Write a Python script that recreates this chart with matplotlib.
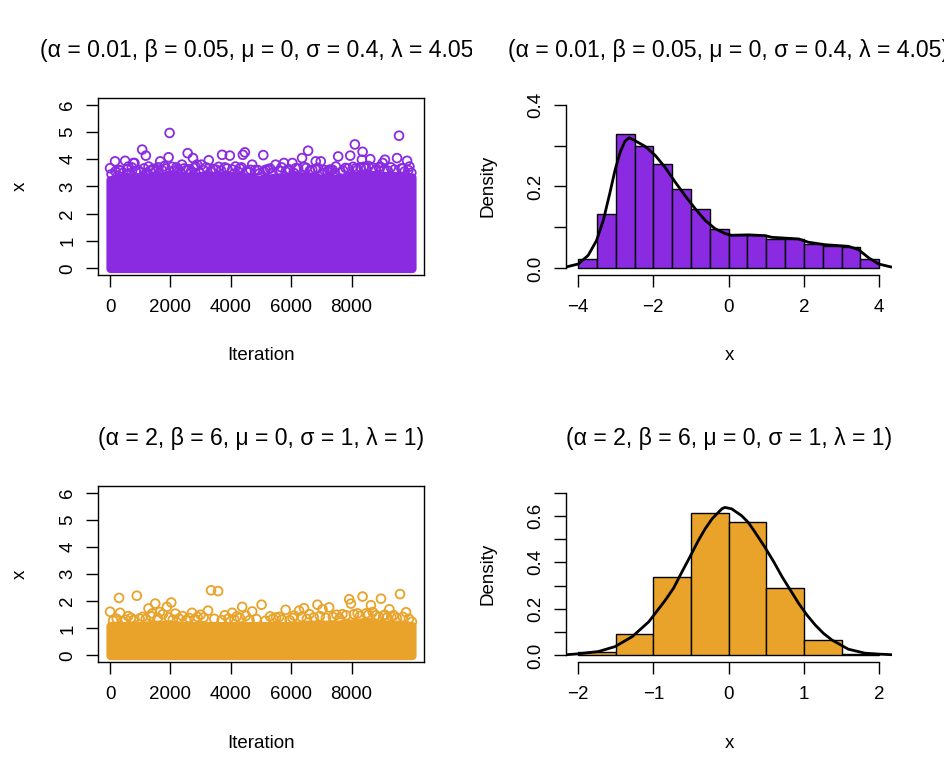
import matplotlib
matplotlib.use("Agg")
import matplotlib.pyplot as plt
import numpy as np
from matplotlib.transforms import Bbox, TransformedBbox

plt.rcParams['font.family'] = ['Liberation Sans', 'DejaVu Sans']

# ---------------- data ----------------
titles = ["(\u03b1 = 0.01, \u03b2 = 0.05, \u03bc = 0, \u03c3 = 0.4, \u03bb = 4.05)",
          "(\u03b1 = 2, \u03b2 = 6, \u03bc = 0, \u03c3 = 1, \u03bb = 1)"]
purple = "#8A2BE2"
orange = "#E9A32A"

# trace plot 1: dense body (top of the dense cloud per iteration block) + visible upper points
p_block_iter = [1, 500, 1000, 1500, 2000, 2500, 3000, 3500, 4000, 4500, 5000,
                5500, 6000, 6500, 7000, 7500, 8000, 8500, 9000, 9500, 10000]
p_block_top = [3.25, 3.35, 3.35, 3.35, 3.45, 3.35, 3.40, 3.40, 3.40, 3.35, 3.25,
               3.35, 3.35, 3.40, 3.30, 3.30, 3.40, 3.45, 3.40, 3.40, 3.35]
p_pts_iter = [1972, 9573, 8110, 1064, 1186, 6560, 5075, 2571, 4466, 4400, 3712, 3967,
              2748, 7557, 7956, 8366, 8343, 6360, 6981, 166, 499, 1939, 9506, 9839,
              9107, 3269, 1662, 8620, 5760, 7370, 2881, 4654, 776, 809, 2382, 3025,
              4709, 5485, 6039, 6814, 7479, 9030, 1, 609, 1274, 2825, 4155, 5152,
              6149, 7257, 8144, 9917, 300, 1450, 2200, 3500, 4900, 5300, 6800, 7800,
              8900, 9700, 2600, 4300, 5900, 7100, 8400, 1800, 3800, 6500,
              50, 180, 260, 350, 430, 560, 640, 720, 850, 930, 1010, 1120, 1230, 1330,
              1400, 1520, 1600, 1720, 1850, 2050, 2120, 2250, 2330, 2450, 2520, 2680,
              2780, 2950, 3100, 3180, 3330, 3420, 3600, 3680, 3880, 4050, 4230, 4350,
              4530, 4600, 4800, 4950, 5100, 5230, 5380, 5600, 5680, 5820, 5950, 6080,
              6230, 6420, 6620, 6700, 6880, 7050, 7200, 7320, 7430, 7650, 7720, 7880,
              8050, 8200, 8300, 8480, 8560, 8720, 8800, 8950, 9080, 9200, 9300, 9420,
              9650, 9760, 9880, 9980]
p_pts_val = [4.96, 4.86, 4.54, 4.35, 4.13, 4.31, 4.15, 4.22, 4.25, 4.16, 4.16, 4.13,
             4.04, 4.10, 4.13, 4.27, 3.98, 4.04, 3.92, 3.92, 3.94, 4.07, 4.04, 3.94,
             3.98, 3.96, 3.92, 4.00, 3.86, 3.61, 3.80, 3.61, 3.86, 3.86, 3.80, 3.80,
             3.80, 3.80, 3.86, 3.92, 3.73, 3.86, 3.67, 3.73, 3.73, 3.73, 3.73, 3.61,
             3.67, 3.61, 3.67, 3.73, 3.60, 3.65, 3.70, 3.62, 3.60, 3.66, 3.64, 3.68,
             3.70, 3.66, 3.63, 3.66, 3.62, 3.60, 3.72, 3.75, 3.70, 3.68,
             3.45, 3.55, 3.40, 3.58, 3.50, 3.62, 3.48, 3.70, 3.55, 3.60, 3.52, 3.66,
             3.50, 3.58,
             3.62, 3.55, 3.70, 3.60, 3.66, 3.72, 3.58, 3.62, 3.50, 3.66, 3.60, 3.55,
             3.68, 3.52, 3.60, 3.70, 3.55, 3.64, 3.72, 3.58, 3.66, 3.62, 3.55, 3.70,
             3.58, 3.52, 3.60, 3.48, 3.55, 3.62, 3.50, 3.58, 3.70, 3.55, 3.62, 3.50,
             3.66, 3.72, 3.58, 3.60, 3.68, 3.50, 3.55, 3.62, 3.48, 3.52, 3.58, 3.66,
             3.72, 3.62, 3.70, 3.66, 3.75, 3.68, 3.60, 3.72, 3.62, 3.58, 3.70, 3.62,
             3.66, 3.55, 3.60, 3.50]

# trace plot 2
o_block_iter = p_block_iter
o_block_top = [1.10, 1.10, 1.10, 1.15, 1.15, 1.10, 1.10, 1.10, 1.10, 1.10, 1.10,
               1.10, 1.10, 1.15, 1.15, 1.15, 1.20, 1.25, 1.15, 1.15, 1.10]
o_pts_iter = [0, 299, 886, 3346, 3579, 332, 1274, 1496, 2028, 1884, 4377, 5019,
              5817, 6870, 7257, 7922, 8366, 8642, 8975, 9606, 7980, 3246, 6260,
              6426, 9252, 9806, 2160, 2714, 4044, 4709, 7036, 10000, 1400, 1650,
              1750, 2400, 3000, 3800, 4500, 5300, 5600, 6100, 6600, 7500, 8200,
              8700, 9100, 9400, 600, 2900, 4200, 5500, 7700,
              100, 220, 420, 520, 700, 780, 980, 1080, 1180, 1350, 1580, 1950,
              2080, 2280, 2520, 2620, 2820, 3100, 3450, 3700, 3920, 4120, 4300, 4620,
              4850, 5150, 5400, 5700, 5950, 6050, 6350, 6520, 6750, 6950, 7150, 7380,
              7600, 7820, 8080, 8280, 8480, 8560, 8800, 8900, 9050, 9180, 9320, 9500,
              9700, 9900]
o_pts_val = [1.61, 2.12, 2.20, 2.40, 2.37, 1.57, 1.73, 1.91, 1.95, 1.79, 1.79, 1.87,
             1.68, 1.87, 1.77, 2.07, 2.17, 1.85, 2.09, 2.26, 1.91, 1.65, 1.65,
             1.74, 1.70, 1.59, 1.54, 1.57, 1.57, 1.62, 1.70, 1.24, 1.55, 1.60,
             1.52, 1.45, 1.50, 1.48, 1.46, 1.44, 1.42, 1.47, 1.52, 1.50, 1.55,
             1.60, 1.50, 1.48, 1.45, 1.42, 1.44, 1.40, 1.52,
             1.28, 1.35, 1.25, 1.32, 1.38, 1.30, 1.36, 1.42, 1.34, 1.45, 1.38, 1.40,
             1.32, 1.36, 1.30, 1.38, 1.34, 1.40, 1.35, 1.30, 1.36, 1.32, 1.38, 1.30,
             1.34, 1.28, 1.36, 1.32, 1.30, 1.38, 1.42, 1.35, 1.40, 1.45, 1.38, 1.42,
             1.36, 1.48, 1.52, 1.45, 1.55, 1.50, 1.48, 1.42, 1.46, 1.40, 1.44, 1.38,
             1.42, 1.35]

# histogram 1
h1_edges = [-4, -3.5, -3, -2.5, -2, -1.5, -1, -0.5, 0, 0.5, 1, 1.5, 2, 2.5, 3, 3.5, 4]
h1_dens = [0.023, 0.133, 0.327, 0.298, 0.254, 0.195, 0.146, 0.097, 0.082, 0.082,
           0.072, 0.072, 0.060, 0.054, 0.052, 0.022]
d1_x = [-4.34, -3.99, -3.73, -3.51, -3.33, -3.15, -3.02, -2.88, -2.75, -2.64, -2.49,
        -2.22, -1.95, -1.69, -1.42, -1.16, -0.89, -0.62, -0.36, -0.09, 0.08, 0.53,
        0.97, 1.15, 1.86, 2.12, 2.56, 3.18, 3.45, 3.72, 3.98, 4.34]
d1_y = [0.003, 0.011, 0.032, 0.068, 0.117, 0.186, 0.239, 0.284, 0.311, 0.319, 0.312,
        0.298, 0.276, 0.247, 0.211, 0.178, 0.146, 0.117, 0.097, 0.085, 0.081, 0.082,
        0.080, 0.076, 0.072, 0.064, 0.058, 0.054, 0.046, 0.026, 0.011, 0.003]

# histogram 2
h2_edges = [-2, -1.5, -1, -0.5, 0, 0.5, 1, 1.5, 2]
h2_dens = [0.013, 0.091, 0.336, 0.611, 0.574, 0.291, 0.067, 0.0085]
d2_x = [-2.17, -2.0, -1.73, -1.51, -1.28, -1.06, -0.84, -0.73, -0.62, -0.51, -0.40,
        -0.31, -0.22, -0.09, -0.05, 0.04, 0.17, 0.26, 0.35, 0.48, 0.60, 0.71, 0.82,
        0.93, 1.04, 1.15, 1.26, 1.37, 1.59, 1.81, 1.99, 2.19]
d2_y = [0.003, 0.007, 0.017, 0.038, 0.081, 0.145, 0.238, 0.290, 0.359, 0.426, 0.495,
        0.545, 0.587, 0.630, 0.636, 0.630, 0.601, 0.572, 0.530, 0.466, 0.402, 0.338,
        0.281, 0.224, 0.174, 0.131, 0.095, 0.067, 0.027, 0.010, 0.006, 0.003]

# ---------------- figure ----------------
W, H = 944, 784
fig = plt.figure(figsize=(W / 100, H / 100), dpi=100)

def rect(l, t, r, b):
    return [l / W, 1 - b / H, (r - l) / W, (b - t) / H]

FS = 13.5
TFS = 16.6

def style_axes(ax):
    ax.tick_params(direction='out', length=8.6, width=1.0, labelsize=FS, pad=9)
    ax.tick_params(axis='y', pad=7)
    for lab in ax.get_yticklabels():
        lab.set_rotation(90)
        lab.set_va('center')

def trace(ax, bi, bt, pi, pv, col):
    ax.fill_between(bi, 0, bt, color=col, lw=6.0, edgecolor=col, joinstyle='round',
                    zorder=2)
    ax.scatter(pi, pv, s=40, facecolors='none', edgecolors=col, linewidths=1.3, zorder=3)
    ax.set_xlim(-399, 10400)
    ax.set_ylim(-0.24, 6.24)
    ax.set_xticks([0, 2000, 4000, 6000, 8000])
    ax.set_yticks(range(7))
    for s in ax.spines.values():
        s.set_linewidth(1.0)
    style_axes(ax)

def hist(ax, edges, dens, dx, dy, col, xl, yl, xt, yt, ylabs):
    ax.bar(edges[:-1], dens, width=np.diff(edges), align='edge', color=col,
           edgecolor='black', linewidth=1.0, zorder=2)
    ax.plot(dx, dy, color='black', lw=2.0, zorder=3, solid_capstyle='butt',
            solid_joinstyle='round')
    ax.set_xlim(*xl)
    ax.set_ylim(*yl)
    ax.set_xticks(xt)
    ax.set_yticks(yt)
    ax.set_yticklabels(ylabs)
    ax.spines['top'].set_visible(False)
    ax.spines['right'].set_visible(False)
    ax.spines['left'].set_bounds(yt[0], yt[-1])
    ax.spines['bottom'].set_bounds(xt[0], xt[-1])
    ax.spines['left'].set_linewidth(1.0)
    ax.spines['bottom'].set_linewidth(1.0)
    style_axes(ax)

ax1 = fig.add_axes(rect(98, 98, 424, 275))
trace(ax1, p_block_iter, p_block_top, p_pts_iter, p_pts_val, purple)
ax2 = fig.add_axes(rect(566, 98, 892, 275))
hist(ax2, h1_edges, h1_dens, d1_x, d1_y, purple, (-4.32, 4.34), (-0.016, 0.416),
     [-4, -2, 0, 2, 4], [0, 0.1, 0.2, 0.3, 0.4], ["0.0", "", "0.2", "", "0.4"])
ax3 = fig.add_axes(rect(98, 486, 424, 662))
trace(ax3, o_block_iter, o_block_top, o_pts_iter, o_pts_val, orange)
ax4 = fig.add_axes(rect(566, 486, 892, 662))
hist(ax4, h2_edges, h2_dens, d2_x, d2_y, orange, (-2.16, 2.17), (-0.028, 0.728),
     [-2, -1, 0, 1, 2], [0, 0.1, 0.2, 0.3, 0.4, 0.5, 0.6, 0.7],
     ["0.0", "", "0.2", "", "0.4", "", "0.6", ""])

# titles (clipped to each panel's figure region like R)
def title(cx, cy, txt, clip_l, clip_r):
    t = fig.text(cx / W, 1 - cy / H, txt, ha='center', va='center', fontsize=TFS)
    t.set_clip_box(TransformedBbox(Bbox([[clip_l / W, 0], [clip_r / W, 1]]), fig.transFigure))
    t.set_clip_on(True)

title(261, 50, titles[0], 0, 472)
title(729, 50, titles[0], 472, 944)
title(261, 438, titles[1], 0, 472)
title(729, 438, titles[1], 472, 944)

# axis labels
fig.text(261 / W, 1 - 355 / H, "Iteration", ha='center', va='center', fontsize=FS)
fig.text(729 / W, 1 - 355 / H, "x", ha='center', va='center', fontsize=FS)
fig.text(261 / W, 1 - 743 / H, "Iteration", ha='center', va='center', fontsize=FS)
fig.text(729 / W, 1 - 743 / H, "x", ha='center', va='center', fontsize=FS)
fig.text(20 / W, 1 - 186 / H, "x", ha='center', va='center', fontsize=FS, rotation=90)
fig.text(488 / W, 1 - 186 / H, "Density", ha='center', va='center', fontsize=FS, rotation=90)
fig.text(20 / W, 1 - 574 / H, "x", ha='center', va='center', fontsize=FS, rotation=90)
fig.text(488 / W, 1 - 574 / H, "Density", ha='center', va='center', fontsize=FS, rotation=90)

fig.savefig("out.png", dpi=100)
